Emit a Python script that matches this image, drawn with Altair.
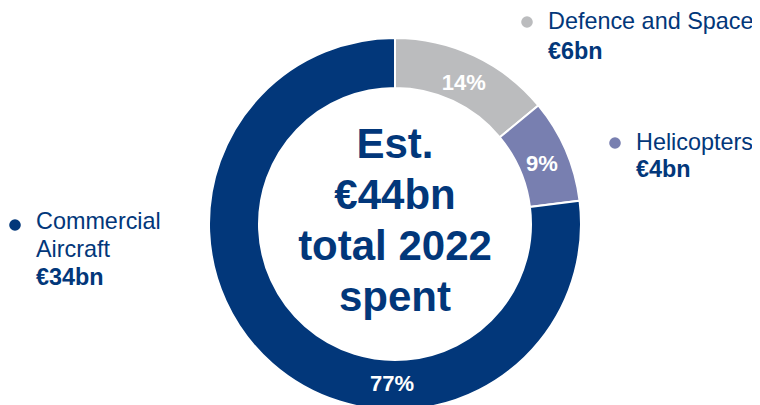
import altair as alt
import pandas as pd

# Data (clockwise from 12 o'clock)
categories = ["Defence and Space", "Helicopters", "Commercial Aircraft"]
spend_bn = [6, 4, 34]
share_pct = [14, 9, 77]
colors = ["#BBBCBE", "#787FB0", "#02377A"]
center_lines = "Est.|€44bn|total 2022|spent"

NAVY = "#02377A"
FONT = "Liberation Sans"

df = pd.DataFrame({
    "idx": list(range(len(categories))),
    "category": categories,
    "bn": spend_bn,
    "pct": share_pct,
})

CX, CY = 387, 216

color_enc = alt.Color("category:N", scale=alt.Scale(domain=categories, range=colors), legend=None)

base = alt.Chart(df).encode(
    theta=alt.Theta("pct:Q", stack=True),
    order=alt.Order("idx:Q"),
)

arcs = base.mark_arc(innerRadius=136, outerRadius=186, stroke="white", strokeWidth=2).encode(
    color=color_enc, x=alt.value(CX), y=alt.value(CY)
)

small_labels = base.transform_calculate(
    lab="datum.idx < 2 ? datum.pct + '%' : ''"
).mark_text(radius=159, font=FONT, fontSize=22, fontWeight="bold", color="white",
            align="center", baseline="middle").encode(
    text="lab:N", x=alt.value(CX + 1), y=alt.value(CY + 3)
)

big_label = alt.Chart(df).transform_filter(alt.datum.idx == 2).transform_calculate(
    lab="datum.pct + '%'"
).mark_text(font=FONT, fontSize=22, fontWeight="bold", color="white",
            align="center", baseline="middle").encode(
    text="lab:N", x=alt.value(CX - 3), y=alt.value(CY + 160)
)

center = alt.Chart(pd.DataFrame({"t": [center_lines]})).mark_text(
    font=FONT, fontSize=42, fontWeight="bold", color=NAVY, align="center",
    baseline="middle", lineBreak="|", lineHeight=51
).encode(text="t:N", x=alt.value(CX), y=alt.value(137))


def legend_item(cat, x, y, tx, name_y, value_y, line_break=None):
    sub = alt.Chart(df).transform_filter(alt.datum.category == cat).transform_calculate(
        vlab="'€' + datum.bn + 'bn'"
    )
    dot = sub.mark_circle(size=135, opacity=1).encode(
        color=color_enc, x=alt.value(x), y=alt.value(y)
    )
    kw = dict(font=FONT, fontSize=23.4, color=NAVY, align="left", baseline="middle", lineHeight=28)
    if line_break:
        kw["lineBreak"] = line_break
    name = sub.mark_text(**kw).encode(text="category:N", x=alt.value(tx), y=alt.value(name_y))
    val = sub.mark_text(font=FONT, fontSize=23.4, fontWeight="bold", color=NAVY, align="left",
                        baseline="middle").encode(text="vlab:N", x=alt.value(tx), y=alt.value(value_y))
    return [dot, name, val]


legend_layers = (
    legend_item("Defence and Space", 519, 14, 540, 14, 44)
    + legend_item("Helicopters", 607, 135, 628, 135, 162)
    + legend_item("Commercial Aircraft", 7, 217, 28, 214, 270, line_break=" ")
)

chart = alt.layer(arcs, small_labels, big_label, center, *legend_layers).properties(
    width=744, height=397, autosize=alt.AutoSizeParams(type="none"), padding=0
).configure_view(stroke=None)

chart.save("out.html", embed_options={"renderer": "svg", "actions": False})
